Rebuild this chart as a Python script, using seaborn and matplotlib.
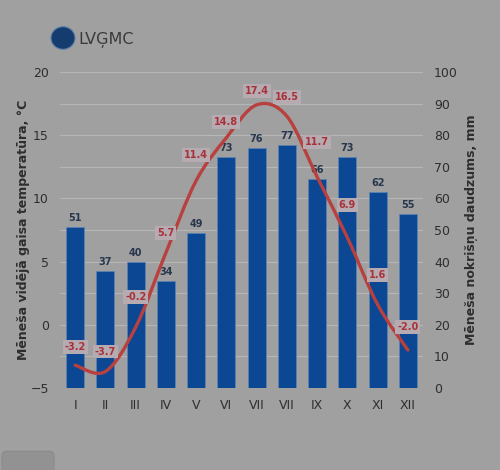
import numpy as np
import pandas as pd
import seaborn as sns
import matplotlib.pyplot as plt
from matplotlib.path import Path
from matplotlib.patches import PathPatch, Circle, FancyBboxPatch

# Data
months = ["I", "II", "III", "IV", "V", "VI", "VII", "VII", "IX", "X", "XI", "XII"]
temperature = [-3.2, -3.7, -0.2, 5.7, 11.4, 14.8, 17.4, 16.5, 11.7, 6.9, 1.6, -2.0]
precipitation = [51, 37, 40, 34, 49, 73, 76, 77, 66, 73, 62, 55]

# label offsets above the line (pixels)
temp_label_offset = [18, 20, 30, 20, 26, 16, 14, 19, 35, 33, 30, 23]

bg = "#a0a0a0"
bar_col = "#0b4792"
line_col = "#b8403f"
txt_col = "#2e2e2e"

sns.set_style("white")
plt.rcParams['font.family'] = ['DejaVu Sans']

fig = plt.figure(figsize=(5, 4.7), dpi=100)
fig.patch.set_facecolor(bg)

ax_p = fig.add_axes([0.12, 0.1745, 0.726, 0.6723])
ax_p.set_facecolor(bg)

df = pd.DataFrame({"month": range(12), "precip": precipitation})
sns.barplot(data=df, x="month", y="precip", color=bar_col, saturation=1,
            width=0.6, edgecolor="#5a82b4", linewidth=0.6, ax=ax_p, zorder=2)
ax_p.set_xlim(-0.5, 11.5)
ax_p.set_ylim(0, 100)
ax_p.set_yticks(range(0, 101, 10))
ax_p.grid(axis="y", color="#b6b6b6", linewidth=0.8, zorder=0)
ax_p.set_axisbelow(True)
ax_p.set_xticks(range(12))
ax_p.set_xticklabels(months)
ax_p.set_xlabel("")
for s in ax_p.spines.values():
    s.set_visible(False)

for i, v in enumerate(precipitation):
    ax_p.annotate(str(v), (i, v), xytext=(0, 9), textcoords="offset pixels",
                  ha="center", va="center", fontsize=7, fontweight="bold",
                  color="#28374d", zorder=5)

# temperature axis
ax_t = ax_p.twinx()
ax_t.set_ylim(-5, 20)
ax_t.set_yticks(range(-5, 21, 5))
ax_t.yaxis.tick_left()
ax_t.yaxis.set_label_position("left")
ax_t.tick_params(length=0, labelsize=9, labelcolor=txt_col, pad=8)
ax_t.set_ylabel("Mēneša vidējā gaisa temperatūra, °C", fontsize=9,
                fontweight="bold", color=txt_col, labelpad=0)
for s in ax_t.spines.values():
    s.set_visible(False)

# precipitation ticks go to the right (after twinx)
ax_p.yaxis.tick_right()
ax_p.yaxis.set_label_position("right")
ax_p.tick_params(length=0, labelsize=9, labelcolor=txt_col, pad=8)
ax_p.set_ylabel("Mēneša nokrišņu daudzums, mm", fontsize=9, fontweight="bold",
                color=txt_col, labelpad=5)

# smoothed line (Catmull-Rom as cubic Bezier)
pts = np.column_stack([np.arange(12), temperature])
verts = [pts[0]]
codes = [Path.MOVETO]
for i in range(11):
    p0 = pts[max(i - 1, 0)]
    p1 = pts[i]
    p2 = pts[i + 1]
    p3 = pts[min(i + 2, 11)]
    verts += [p1 + (p2 - p0) / 6, p2 - (p3 - p1) / 6, p2]
    codes += [Path.CURVE4] * 3
ax_t.add_patch(PathPatch(Path(verts, codes), facecolor="none", edgecolor=line_col,
                         linewidth=2.4, capstyle="round", zorder=3))

for i, v in enumerate(temperature):
    ax_t.annotate(f"{v:.1f}", (i, v), xytext=(0, temp_label_offset[i]),
                  textcoords="offset pixels", ha="center", va="center",
                  fontsize=7, fontweight="bold", color="#a8323a", zorder=6,
                  bbox=dict(boxstyle="square,pad=0.2", facecolor="#b7abb2",
                            edgecolor="none"))

# logo
fig.patches.append(Circle((63 / 500, 1 - 38 / 470), 12 / 500, transform=fig.transFigure,
                          facecolor="#143c6e", edgecolor="#5c7fa8", linewidth=0.8))
fig.text(78 / 500, 1 - 40 / 470, "LVĢMC", fontsize=11.5, color="#3a3a3a",
         ha="left", va="center")

# corner box
fig.patches.append(FancyBboxPatch((2 / 500, -0.02), 52 / 500, 0.06,
                                  boxstyle="round,pad=0,rounding_size=0.01",
                                  transform=fig.transFigure, facecolor="#929292",
                                  edgecolor="#8a8a8a", linewidth=0.8))

fig.savefig("out.png", dpi=100, facecolor=bg)
